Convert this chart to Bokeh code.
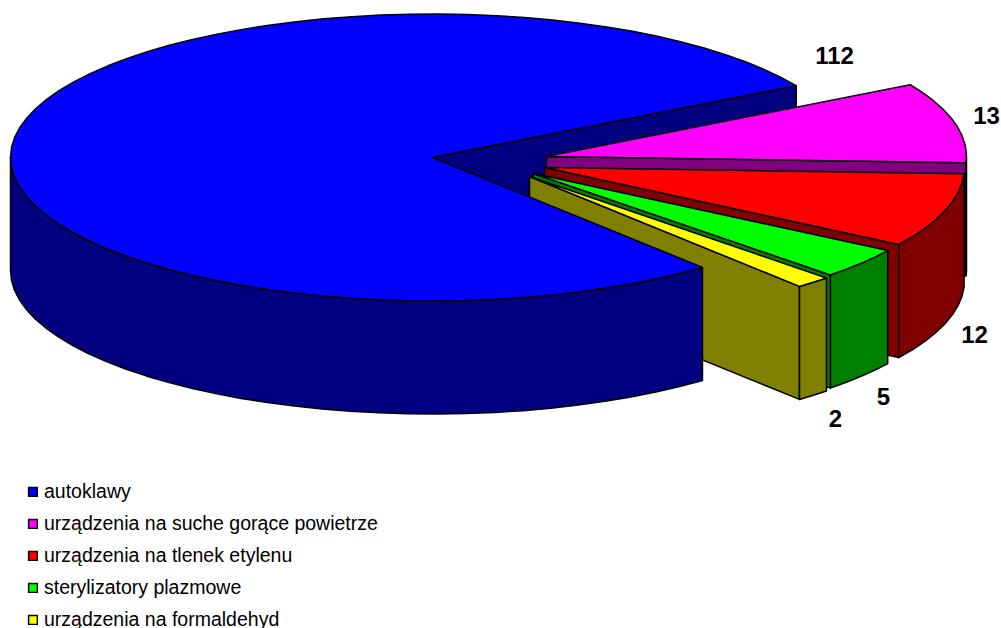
import math
from bokeh.plotting import figure
from bokeh.models import Range1d, Legend, LegendItem
from bokeh.core.properties import value
from bokeh.embed import file_html
from bokeh.resources import INLINE

categories = ["autoklawy", "urządzenia na suche gorące powietrze",
              "urządzenia na tlenek etylenu", "sterylizatory plazmowe",
              "urządzenia na formaldehyd"]
values = [112, 13, 12, 5, 2]
top_colors = ["#0000ff", "#ff00ff", "#ff0000", "#00ff00", "#ffff00"]
wall_colors = ["#000080", "#800080", "#800000", "#008000", "#808000"]

# layout of the pie in page pixels
apexes = [(432, 157), (546, 156), (544, 167), (533, 173), (529, 176)]
label_pos = [(834, 55), (986, 115), (974, 334), (883, 396), (835, 418)]
RX_LEFT, RX_RIGHT, RY, DEPTH = 422, 420, 143.5, 113
FIRST_ANGLE = 30.0  # degrees counter-clockwise from 3 o'clock

W, H = 1001, 628
p = figure(width=W, height=H, output_backend="svg", toolbar_location=None,
           x_range=Range1d(0, W), y_range=Range1d(H, 0),
           min_border=0, outline_line_color=None)
p.xaxis.visible = False
p.yaxis.visible = False
p.xgrid.visible = False
p.ygrid.visible = False

total = sum(values)
spans = []
a = FIRST_ANGLE
for v in values[1:]:
    spans.append((a, a - v / total * 360))
    a -= v / total * 360
spans = [(FIRST_ANGLE + values[0] / total * 360, FIRST_ANGLE)] + spans


def arc(apex, a0, a1, dy=0.0, step=4.0):
    n = max(2, int(abs(a1 - a0) / step) + 1)
    pts = []
    for i in range(n + 1):
        t = math.radians(a0 + (a1 - a0) * i / n)
        c = math.cos(t)
        pts.append((apex[0] + (RX_RIGHT if c > 0 else RX_LEFT) * c,
                    apex[1] - RY * math.sin(t) + dy))
    return pts


def poly(pts, fill):
    return p.patch([q[0] for q in pts], [q[1] for q in pts], fill_color=fill,
                   line_color="black", line_width=1.5, line_join="round")


def cut_wall(apex, angle, fill):
    e = arc(apex, angle, angle)[0]
    poly([apex, e, (e[0], e[1] + DEPTH), (apex[0], apex[1] + DEPTH)], fill)


def outer_wall(apex, a0, a1, fill):
    lo, hi = max(a1, -180), min(a0, 0)
    if hi <= lo:
        return
    top = arc(apex, lo, hi)
    bot = arc(apex, hi, lo, DEPTH)
    poly(top + bot, fill)


tops = [None] * 5
cut_wall(apexes[0], FIRST_ANGLE, wall_colors[0])
for i in range(1, 5):
    s, e = spans[i]
    cut_wall(apexes[i], e, wall_colors[i])
    outer_wall(apexes[i], s, e, wall_colors[i])
    tops[i] = poly([apexes[i]] + arc(apexes[i], s, e), top_colors[i])
end_angle = spans[0][0]
poly(arc(apexes[0], 180, end_angle) + arc(apexes[0], end_angle, 180, DEPTH), wall_colors[0])
tops[0] = poly([apexes[0]] + arc(apexes[0], FIRST_ANGLE, end_angle), top_colors[0])

p.text([q[0] for q in label_pos], [q[1] for q in label_pos], text=[str(v) for v in values],
       text_font=value("Liberation Sans"), text_font_style="bold", text_font_size="24px",
       text_align="center", text_baseline="middle", text_color="black")

legend = Legend(items=[LegendItem(label=c, renderers=[r]) for c, r in zip(categories, tops)],
                location=(27, -3), orientation="vertical", glyph_width=11, glyph_height=11,
                label_standoff=6, spacing=9, margin=0, padding=0,
                border_line_color=None, background_fill_alpha=0,
                label_text_font="Liberation Sans", label_text_font_size="19.5px",
                label_text_color="black")
p.add_layout(legend)

open("out.html", "w").write(file_html(p, INLINE))
